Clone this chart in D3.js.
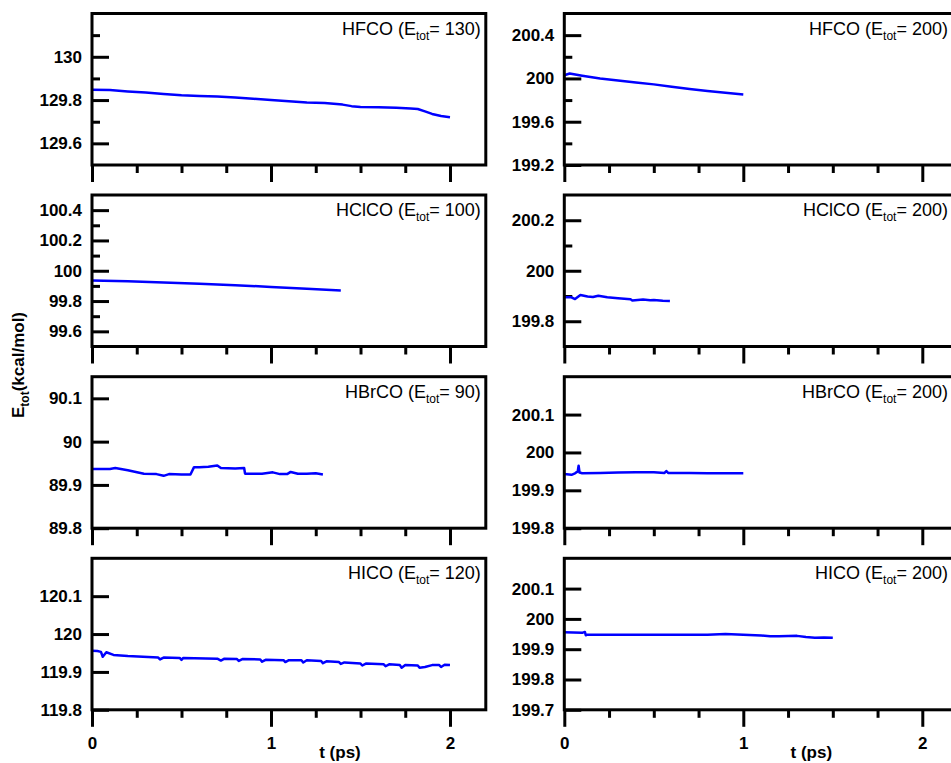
<!DOCTYPE html>
<html>
<head>
<meta charset="utf-8">
<script src="https://cdn.jsdelivr.net/npm/d3@7"></script>
<style>
  body { margin: 0; background: #fff; }
  svg { display: block; font-family: "Liberation Sans", Arial, Helvetica, sans-serif; }
  .tick text { font-weight: bold; font-size: 17px; fill: #000; }
  .tick line { stroke: #000; stroke-width: 3; }
  .frame { fill: none; stroke: #000; stroke-width: 3; }
  .trace { fill: none; stroke: #0000ff; stroke-width: 2.5; stroke-linejoin: round; }
</style>
</head>
<body>
<div id="chart"></div>
<script>
// panel titles (molecule, total energy)
const molecules = ['HFCO', 'HFCO', 'HClCO', 'HClCO', 'HBrCO', 'HBrCO', 'HICO', 'HICO'];
const energies = [130, 200, 100, 200, 90, 200, 120, 200];

// y ranges and ticks of each panel
const yDomains = [
  [129.5, 130.2], [199.2, 200.6],
  [99.5, 100.5], [199.7, 200.3],
  [89.8, 90.15], [199.8, 200.2],
  [119.8, 120.2], [199.7, 200.2]
];
const yMajor = [
  [129.6, 129.8, 130], [199.2, 199.6, 200, 200.4],
  [99.6, 99.8, 100, 100.2, 100.4], [199.8, 200, 200.2],
  [89.8, 89.9, 90, 90.1], [199.8, 199.9, 200, 200.1],
  [119.8, 119.9, 120, 120.1], [199.7, 199.8, 199.9, 200, 200.1]
];
const yMinor = [
  [129.7, 129.9, 130.1], [199.4, 199.8, 200.2],
  [99.7, 99.9, 100.1, 100.3], [199.9, 200.1],
  [], [],
  [], []
];

const xMajor = [0, 1, 2];
const xMinor = [0.25, 0.5, 0.75, 1.25, 1.5, 1.75];

// time (ps) and total energy (kcal/mol)
const t0 = [0, 0.1, 0.2, 0.3, 0.4, 0.5, 0.6, 0.7, 0.8, 0.9, 1.0, 1.1, 1.2, 1.3, 1.4, 1.45, 1.5, 1.6, 1.7, 1.78, 1.82, 1.86, 1.9, 1.95, 2.0];
const e0 = [129.848, 129.846, 129.840, 129.835, 129.828, 129.822, 129.819, 129.816, 129.812, 129.806, 129.800, 129.795, 129.789, 129.786, 129.779, 129.772, 129.768, 129.767, 129.764, 129.761, 129.759, 129.748, 129.736, 129.726, 129.721];

const t1 = [0, 0.03, 0.1, 0.2, 0.3, 0.4, 0.5, 0.6, 0.7, 0.8, 0.9, 1.0];
const e1 = [200.03, 200.045, 200.025, 200.0, 199.98, 199.962, 199.945, 199.924, 199.903, 199.884, 199.867, 199.852];

const t2 = [0, 0.2, 0.4, 0.6, 0.8, 1.0, 1.2, 1.39];
const e2 = [99.935, 99.930, 99.923, 99.915, 99.905, 99.893, 99.882, 99.870];

const t3 = [0, 0.04, 0.06, 0.09, 0.13, 0.16, 0.19, 0.24, 0.3, 0.37, 0.38, 0.44, 0.48, 0.5, 0.55, 0.59];
const e3 = [199.895, 199.895, 199.888, 199.904, 199.898, 199.896, 199.901, 199.895, 199.891, 199.887, 199.882, 199.886, 199.883, 199.884, 199.881, 199.880];

const t4 = [0, 0.1, 0.13, 0.2, 0.29, 0.36, 0.40, 0.43, 0.5, 0.55, 0.57, 0.6, 0.65, 0.70, 0.72, 0.8, 0.85, 0.855, 0.9, 0.95, 1.01, 1.05, 1.09, 1.11, 1.15, 1.2, 1.25, 1.29];
const e4 = [89.937, 89.937, 89.939, 89.934, 89.926, 89.925, 89.921, 89.925, 89.924, 89.924, 89.941, 89.941, 89.942, 89.945, 89.939, 89.938, 89.939, 89.926, 89.926, 89.926, 89.929, 89.925, 89.925, 89.930, 89.926, 89.926, 89.927, 89.924];

const t5 = [0, 0.04, 0.06, 0.075, 0.08, 0.085, 0.1, 0.2, 0.3, 0.4, 0.5, 0.56, 0.57, 0.58, 0.7, 0.8, 0.9, 1.0];
const e5 = [199.943, 199.941, 199.945, 199.950, 199.965, 199.947, 199.945, 199.946, 199.947, 199.948, 199.948, 199.946, 199.951, 199.946, 199.946, 199.945, 199.945, 199.945];

const t6 = [0, 0.03, 0.05, 0.06, 0.08, 0.12, 0.2, 0.37, 0.38, 0.4, 0.49, 0.5, 0.51, 0.7, 0.72, 0.74, 0.81, 0.82, 0.84, 0.94, 0.95, 0.97, 1.07, 1.08, 1.1, 1.17, 1.18, 1.2, 1.28, 1.29, 1.31, 1.38, 1.39, 1.41, 1.5, 1.51, 1.53, 1.63, 1.64, 1.66, 1.72, 1.73, 1.75, 1.82, 1.83, 1.86, 1.9, 1.94, 1.95, 1.97, 2.0];
const e6 = [119.956, 119.955, 119.953, 119.940, 119.952, 119.945, 119.942, 119.938, 119.933, 119.938, 119.937, 119.932, 119.937, 119.935, 119.930, 119.935, 119.934, 119.929, 119.934, 119.933, 119.927, 119.932, 119.931, 119.926, 119.931, 119.931, 119.925, 119.931, 119.929, 119.923, 119.928, 119.926, 119.921, 119.925, 119.922, 119.917, 119.922, 119.920, 119.915, 119.920, 119.918, 119.911, 119.918, 119.917, 119.911, 119.913, 119.918, 119.918, 119.913, 119.919, 119.918];

const t7 = [0, 0.05, 0.1, 0.115, 0.12, 0.13, 0.2, 0.4, 0.6, 0.8, 0.9, 1.0, 1.1, 1.15, 1.2, 1.3, 1.35, 1.4, 1.45, 1.5];
const e7 = [199.956, 199.955, 199.954, 199.957, 199.946, 199.948, 199.948, 199.948, 199.948, 199.948, 199.950, 199.948, 199.945, 199.943, 199.943, 199.944, 199.940, 199.938, 199.939, 199.938];

const times = [t0, t1, t2, t3, t4, t5, t6, t7];
const values = [e0, e1, e2, e3, e4, e5, e6, e7];

const width = 951;
const height = 763;
const colLeft = [92, 564.3];
const rowTop = [13.5, 195, 376.7, 558.3];
const panelH = 151.5;
const panelW = 393.8;

const svg = d3.select('#chart').append('svg')
  .attr('width', width).attr('height', height);

const fmt = v => String(+v.toFixed(2));

molecules.forEach((mol, i) => {
  const col = i % 2;
  const row = Math.floor(i / 2);
  const g = svg.append('g')
    .attr('transform', `translate(${colLeft[col]},${rowTop[row]})`);

  const x = d3.scaleLinear().domain([0, 2.2]).range([0, panelW]);
  const y = d3.scaleLinear().domain(yDomains[i]).range([panelH, 0]);

  // minor ticks first, then major
  g.append('g').attr('transform', `translate(0,${panelH})`)
    .call(d3.axisBottom(x).tickValues(xMinor).tickSizeInner(8).tickSizeOuter(0).tickFormat(''))
    .call(a => a.select('.domain').remove());
  g.append('g').attr('transform', `translate(0,${panelH})`)
    .call(d3.axisBottom(x).tickValues(xMajor).tickSizeInner(17).tickSizeOuter(0).tickPadding(10)
      .tickFormat(row === 3 ? d3.format('d') : ''))
    .call(a => a.select('.domain').remove());

  g.append('g')
    .call(d3.axisLeft(y).tickValues(yMinor[i]).tickSizeInner(-8).tickSizeOuter(0).tickFormat(''))
    .call(a => a.select('.domain').remove());
  g.append('g')
    .call(d3.axisLeft(y).tickValues(yMajor[i]).tickSizeInner(-17).tickSizeOuter(0).tickPadding(10).tickFormat(fmt))
    .call(a => a.select('.domain').remove());

  const pts = times[i].map((t, k) => [t, values[i][k]]);
  g.append('path')
    .datum(pts)
    .attr('class', 'trace')
    .attr('d', d3.line().x(d => x(d[0])).y(d => y(d[1])));

  g.append('rect').attr('class', 'frame')
    .attr('width', panelW).attr('height', panelH);

  // right column is cut by the window, keep its label just inside
  const label = g.append('text')
    .attr('x', col === 0 ? panelW - 5 : width - colLeft[col] - 3).attr('y', 21)
    .attr('text-anchor', 'end')
    .attr('font-size', 18);
  label.append('tspan').text(mol + ' (E');
  label.append('tspan').attr('font-size', 12).attr('dy', 5).text('tot');
  label.append('tspan').attr('dy', -5).text('= ' + energies[i] + ')');

  if (row === 3) {
    g.append('text')
      .attr('x', col === 0 ? 248 : 247).attr('y', panelH + 48)
      .attr('text-anchor', 'middle')
      .attr('font-size', 17).attr('font-weight', 'bold')
      .text('t (ps)');
  }
});

// shared y title
const yt = svg.append('text')
  .attr('transform', 'translate(24,365) rotate(-90)')
  .attr('text-anchor', 'middle')
  .attr('font-size', 17).attr('font-weight', 'bold');
yt.append('tspan').text('E');
yt.append('tspan').attr('font-size', 12).attr('dy', 5).text('tot');
yt.append('tspan').attr('dy', -5).text('(kcal/mol)');
</script>
</body>
</html>
